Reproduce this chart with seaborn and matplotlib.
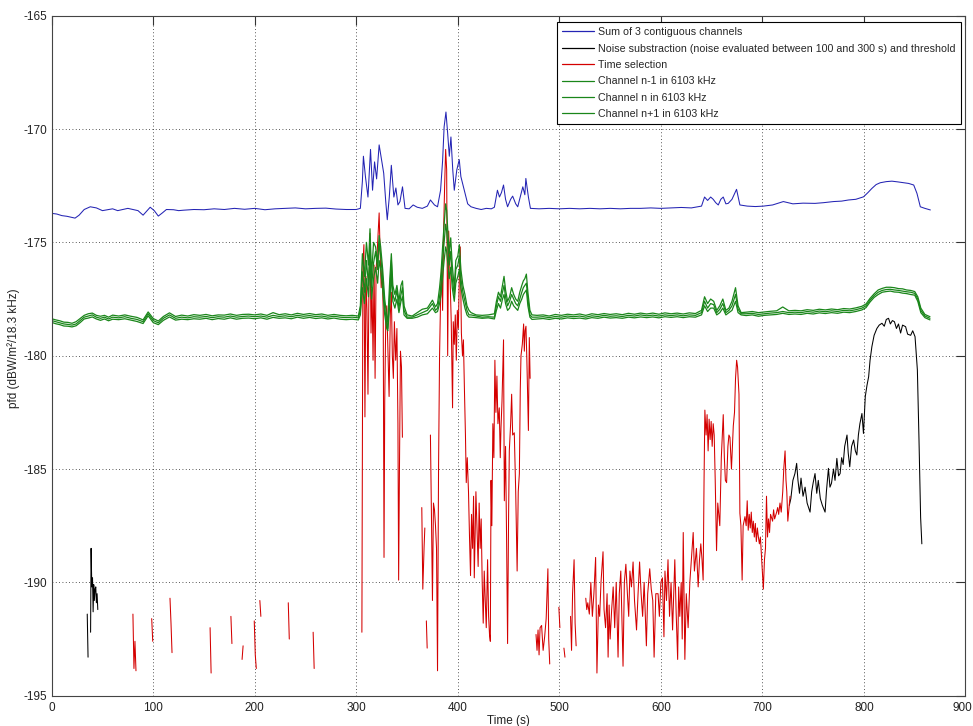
import numpy as np
import pandas as pd
import matplotlib
matplotlib.use("Agg")
import matplotlib.pyplot as plt
import seaborn as sns
from matplotlib.lines import Line2D
from matplotlib.transforms import ScaledTranslation

nan = np.nan

# ---------------- data ----------------
blue_t = [0, 5, 10, 15, 20, 23, 27, 32, 38, 44, 50, 55, 60, 65, 70, 75, 80, 85, 90, 94, 97, 101, 105, 109, 113,
          120, 125, 130, 140, 150, 160, 170, 180, 190, 200, 210, 220, 230, 240, 250, 260, 270, 280, 290, 300,
          304, 306, 307, 309, 311.5, 314, 316, 318, 320, 322.5, 325, 327, 329, 330.5, 332.5, 334.5, 337, 339,
          341, 343, 345.5, 348, 352, 356, 360, 365, 370, 373, 377, 380, 383, 385, 386.5, 388.3, 390, 391.6,
          393.2, 395, 396.5, 399, 401.4, 403, 406.4, 409.7, 413, 418, 423, 428, 433, 436, 439, 441, 443, 445,
          447, 449, 452, 454, 457, 459, 462, 464, 466, 467, 469.5, 471.5, 480, 490, 500, 510, 520, 530, 540,
          550, 560, 570, 580, 590, 600, 610, 620, 630, 640, 643, 646, 649, 651.5, 654, 656.5, 659, 661.4, 664,
          666.3, 670, 674.5, 677.8, 685, 693, 701, 710, 720.6, 730, 740, 751.8, 760, 770, 778, 784.8, 792,
          799.6, 804, 807.8, 812, 816, 822, 827.5, 833, 839, 844, 849, 852.2, 855.5, 860, 865.4]
blue_v = [-173.72, -173.75, -173.82, -173.85, -173.9, -173.93, -173.8, -173.55, -173.43, -173.48, -173.6, -173.56,
          -173.52, -173.6, -173.55, -173.5, -173.55, -173.6, -173.8, -173.6, -173.45, -173.6, -173.84, -173.7,
          -173.55, -173.56, -173.6, -173.58, -173.55, -173.56, -173.52, -173.55, -173.5, -173.54, -173.5,
          -173.56, -173.52, -173.5, -173.48, -173.52, -173.5, -173.49, -173.53, -173.55, -173.55,
          -173.5, -172.3, -171.2, -172.1, -173.0, -170.9, -172.7, -171.45, -172.2, -170.7, -171.4, -171.95,
          -173.2, -174.0, -173.0, -171.6, -173.0, -172.6, -173.35, -173.2, -172.55, -173.5, -173.52, -173.35,
          -173.45, -173.5, -173.4, -173.13, -173.35, -173.43, -172.7, -171.4, -169.9, -169.25, -170.2, -171.2,
          -170.35, -171.8, -172.7, -171.8, -171.35, -172.1, -172.7, -173.3, -173.43, -173.5, -173.55, -173.5,
          -173.52, -173.45, -172.7, -173.0, -172.8, -172.47, -173.1, -173.43, -173.1, -172.96, -173.3, -173.43,
          -172.9, -172.55, -172.9, -172.18, -173.0, -173.5, -173.52, -173.5, -173.52, -173.5, -173.52, -173.5,
          -173.52, -173.5, -173.52, -173.5, -173.5, -173.48, -173.5, -173.48, -173.46, -173.48, -173.4, -173.0,
          -173.15, -173.0, -173.1, -173.25, -173.35, -173.1, -173.0, -173.3, -173.28, -173.1, -172.66, -173.35,
          -173.4, -173.42, -173.4, -173.35, -173.2, -173.3, -173.27, -173.28, -173.25, -173.2, -173.18, -173.13,
          -173.1, -172.99, -172.8, -172.62, -172.45, -172.37, -172.32, -172.3, -172.33, -172.37, -172.4,
          -172.47, -172.84, -173.43, -173.5, -173.57]

green_t = [0, 4, 8, 12, 16, 20, 24, 28, 32, 36, 40, 44, 48, 52, 56, 60, 66, 72, 78, 84, 90, 95, 100, 105, 110,
           116, 122, 128, 134, 140, 146, 152, 158, 164, 170, 176, 182, 188, 194, 200, 206, 212, 218, 224, 230,
           236, 242, 248, 254, 260, 266, 272, 278, 284, 290, 296, 302,
           304, 306, 308, 310, 312, 313.5, 315, 317, 319, 321, 322.5, 324, 326, 328, 330, 331, 333, 334.5, 336,
           338, 340, 342, 344, 345.5, 347, 350,
           355, 360, 365, 370, 375, 378, 380, 382,
           383.5, 385, 386.5, 388, 389, 390, 391.5, 393, 394.5, 396.5, 398, 400, 401.5, 403, 405, 407, 409, 411, 413,
           418, 424, 430, 436,
           438, 440, 442, 444, 445.5, 447, 449, 451, 453, 455, 457, 459, 461, 463, 464.5, 466, 467.5, 469, 471, 473,
           478, 484, 490, 496, 502, 508, 514, 520, 526, 532, 538, 544, 550, 556, 562, 568, 574, 580, 586, 592,
           598, 604, 610, 616, 622, 628, 634, 640,
           643, 646, 649, 652, 655, 658, 661, 664, 667, 670, 673.5, 676, 679,
           684, 690, 696, 702, 708, 714, 720, 726, 732, 738, 744, 750, 756, 762, 768, 774, 780, 786, 792, 798,
           802, 806, 810, 814, 818, 822, 826, 830, 834, 838, 842, 846, 850, 853, 856, 860, 865]

green_nm1 = [-178.37, -178.42, -178.46, -178.52, -178.53, -178.57, -178.5, -178.36, -178.22, -178.15, -178.12,
             -178.22, -178.26, -178.22, -178.3, -178.21, -178.25, -178.2, -178.26, -178.31, -178.42, -178.07,
             -178.36, -178.47, -178.27, -178.11, -178.27, -178.21, -178.25, -178.19, -178.22, -178.18, -178.24,
             -178.2, -178.21, -178.16, -178.22, -178.18, -178.17, -178.2, -178.16, -178.22, -178.1, -178.19,
             -178.15, -178.2, -178.13, -178.18, -178.14, -178.19, -178.16, -178.22, -178.18, -178.22, -178.24,
             -178.22, -178.25,
             -177.8, -175.5, -176.5, -175.0, -176.0, -174.4, -176.5, -175.0, -175.2, -175.9, -174.7, -175.2,
             -176.2, -177.5, -178.3, -178.5, -176.6, -175.5, -176.9, -177.3, -176.9, -177.6, -176.9, -176.7,
             -177.8, -178.2,
             -178.25, -178.1, -177.95, -177.9, -177.55, -177.85, -177.7, -177.0,
             -176.3, -175.2, -174.2, -173.3, -173.6, -174.4, -175.5, -174.8, -176.0, -177.0, -175.8, -175.6,
             -175.1, -176.2, -176.9, -177.3, -177.8, -178.0, -178.1,
             -178.2, -178.22, -178.2, -178.15,
             -177.6, -177.2, -177.4, -176.9, -176.5, -177.1, -177.6, -177.4, -177.0, -177.3, -177.5, -177.6,
             -177.2, -176.9, -176.7, -176.6, -176.4, -177.2, -178.0, -178.2,
             -178.22, -178.2, -178.25, -178.18, -178.22, -178.17, -178.2, -178.16, -178.22, -178.15, -178.19,
             -178.14, -178.18, -178.15, -178.19, -178.13, -178.17, -178.12, -178.16, -178.12, -178.17, -178.11,
             -178.15, -178.12, -178.16, -178.11, -178.14, -178.0,
             -177.4, -177.7, -177.5, -177.6, -178.0, -177.8, -177.5, -178.0, -177.9, -177.6, -177.0, -177.8, -178.1,
             -178.08, -178.05, -178.1, -178.07, -178.04, -178.02, -177.85, -178.02, -178.0, -178.02, -177.97,
             -178.0, -177.95, -177.98, -177.94, -177.97, -177.92, -177.94, -177.89, -177.82,
             -177.72, -177.47, -177.27, -177.1, -177.03, -176.98, -176.98, -177.0, -177.04, -177.05, -177.1,
             -177.12, -177.17, -177.4, -177.9, -178.18, -178.28]

green_n = [-178.45, -178.5, -178.55, -178.6, -178.62, -178.65, -178.6, -178.45, -178.3, -178.25, -178.2, -178.3,
           -178.35, -178.3, -178.38, -178.3, -178.33, -178.28, -178.35, -178.4, -178.5, -178.15, -178.45, -178.55,
           -178.35, -178.2, -178.35, -178.3, -178.33, -178.28, -178.3, -178.27, -178.32, -178.28, -178.3, -178.25,
           -178.3, -178.27, -178.25, -178.28, -178.25, -178.3, -178.22, -178.27, -178.24, -178.28, -178.22,
           -178.26, -178.23, -178.27, -178.25, -178.3, -178.26, -178.3, -178.32, -178.3, -178.33,
           -178.0, -176.3, -177.2, -175.8, -176.9, -174.9, -177.0, -175.9, -175.4, -176.2, -175.0, -175.6,
           -176.6, -177.9, -178.6, -178.8, -177.2, -175.8, -177.3, -177.6, -177.1, -177.9, -177.3, -177.0,
           -178.0, -178.3,
           -178.3, -178.2, -178.1, -178.0, -177.7, -178.0, -177.9, -177.4,
           -176.8, -175.8, -175.0, -174.2, -174.5, -175.1, -176.0, -175.4, -176.6, -177.3, -176.2, -176.0,
           -175.6, -176.6, -177.2, -177.6, -178.0, -178.2, -178.2,
           -178.25, -178.3, -178.28, -178.3,
           -177.8, -177.4, -177.6, -177.2, -176.9, -177.4, -177.8, -177.6, -177.3, -177.5, -177.7, -177.8,
           -177.5, -177.2, -177.0, -176.9, -176.8, -177.5, -178.2, -178.3,
           -178.3, -178.28, -178.32, -178.27, -178.3, -178.25, -178.28, -178.25, -178.3, -178.24, -178.27,
           -178.22, -178.26, -178.24, -178.27, -178.22, -178.25, -178.2, -178.24, -178.21, -178.25, -178.2,
           -178.23, -178.2, -178.24, -178.2, -178.22, -178.1,
           -177.6, -177.9, -177.7, -177.75, -178.1, -177.95, -177.7, -178.1, -178.0, -177.8, -177.3, -177.95,
           -178.15,
           -178.15, -178.13, -178.18, -178.15, -178.12, -178.1, -178.05, -178.1, -178.08, -178.1, -178.05,
           -178.08, -178.03, -178.06, -178.02, -178.05, -178.0, -178.02, -177.97, -177.9,
           -177.8, -177.55, -177.35, -177.2, -177.12, -177.08, -177.07, -177.1, -177.12, -177.15, -177.18,
           -177.2, -177.25, -177.5, -178.0, -178.25, -178.35]

green_np1 = [-178.53, -178.59, -178.63, -178.69, -178.7, -178.73, -178.68, -178.54, -178.38, -178.34, -178.29,
             -178.38, -178.44, -178.38, -178.46, -178.39, -178.41, -178.37, -178.43, -178.49, -178.58, -178.24,
             -178.54, -178.63, -178.44, -178.29, -178.43, -178.39, -178.41, -178.37, -178.39, -178.35, -178.41,
             -178.36, -178.39, -178.33, -178.39, -178.35, -178.34, -178.37, -178.33, -178.39, -178.31, -178.35,
             -178.33, -178.37, -178.3, -178.35, -178.31, -178.36, -178.33, -178.38, -178.34, -178.39, -178.41,
             -178.39, -178.42,
             -178.2, -177.0, -177.7, -176.6, -177.4, -175.6, -177.5, -176.6, -176.1, -176.8, -175.8, -176.2,
             -177.1, -178.2, -178.8, -178.9, -177.7, -176.4, -177.6, -177.9, -177.5, -178.1, -177.6, -177.4,
             -178.2, -178.35,
             -178.35, -178.3, -178.2, -178.15, -177.9, -178.1, -178.05, -177.7,
             -177.3, -176.5, -175.8, -175.2, -175.4, -175.9, -176.6, -176.1, -177.0, -177.6, -176.8, -176.5,
             -176.2, -177.0, -177.5, -177.9, -178.2, -178.3, -178.3,
             -178.32, -178.35, -178.33, -178.38,
             -178.0, -177.7, -177.9, -177.5, -177.3, -177.7, -178.0, -177.9, -177.6, -177.8, -177.9, -178.0,
             -177.7, -177.5, -177.3, -177.2, -177.1, -177.8, -178.3, -178.4,
             -178.38, -178.36, -178.4, -178.35, -178.38, -178.33, -178.36, -178.34, -178.38, -178.32, -178.35,
             -178.3, -178.34, -178.32, -178.35, -178.3, -178.33, -178.29, -178.32, -178.29, -178.33, -178.28,
             -178.31, -178.28, -178.32, -178.28, -178.3, -178.2,
             -177.8, -178.05, -177.9, -177.9, -178.2, -178.1, -177.9, -178.2, -178.1, -178.0, -177.6, -178.1,
             -178.2,
             -178.23, -178.2, -178.26, -178.22, -178.2, -178.18, -178.13, -178.18, -178.16, -178.18, -178.13,
             -178.16, -178.11, -178.14, -178.1, -178.13, -178.08, -178.1, -178.05, -177.98,
             -177.88, -177.63, -177.43, -177.3, -177.2, -177.17, -177.15, -177.19, -177.2, -177.24, -177.26,
             -177.3, -177.33, -177.6, -178.1, -178.32, -178.42]

red_t = [80, 81, 82, 83, nan, 98.5, 99.5, nan, 116.5, 117.5, 118.5, nan, 156, 157, nan, 176.5, 177.5, nan,
         187.5, 188.5, nan, 199.5, 200.5, 201.5, nan, 205, 206, nan, 233, 234, nan, 257.5, 258.5, nan,
         305.5, 306.5, 307.5, 308.5, 309.5, 310.5, 311.5, 312.5, 313.5, 314.5, 315.5, 316.5, 317.5, 318.5,
         319.5, 320.5, 321.5, 322.5, 323.5, 324.5, 325.5, 326.5, 327.3, 328, 329, 330, 331, 332.3, 333.5,
         334.5, 335.5, 336.5, 337.5, 338.8, 340, 341, 341.7, 342.5, 343.5, 344.5, 345.4, nan,
         364.5, 365.5, 366.8, 367.5, nan, 369, 369.8, nan,
         373, 374, 375, 376, 377, 378, 379, 380, 381, 382, 383, 384, 385, 386, 387, 388, 389, 390, 391, 392,
         393.5, 394.8, 395.5, 396.5, 397.5, 398.5, 399.5, 400.5, 401.5, 402.4, 403.5, 404.6, 405.5, 406.5,
         407.5, 408.3, 409.3, 410.5, 411.5, 412.5, 413.5, 414.5, 415.5, 416.2, 417, 417.8, 418.8, 420, 421,
         422, 423, 424, 425, 426, 427, 428, 429.3, 430.3, 431.2, 432, 432.7, 433.5, 434.5, 435.5, 436.5,
         437.5, 438.5, 439.5, 440.8, 441.8, 442.5, 443.5, 445, 445.8, 447, 448, 449, 450, 450.7, 452, 453,
         454, 455.6, 457, 458.4, 459.5, 460.6, 461.5, 462.2, 463.5, 464.8, 465.5, 466.2, 467.1, 468, 469.5,
         470.4, 471.2, nan,
         477, 478, 479, 480, 481, 482.5, 484, 485.5, 487, 488.7, 489.5, 490.5, nan,
         499.5, 500.5, nan, 504.5, 505.5, nan, 511, 512, 513, 514.5, 515.5, 516.5, nan,
         526, 527, 528, 529.5, 531, 532.5, 534, 535.7, 537, 538.5, 539.7, 541, 543, 544, 545.5, 547, 548,
         549, 550, 551.5, 553, 554.5, 556, 557.8, 559, 560.5, 561.5, 562.7, 564, 565.5, 567, 568.3, 569.5,
         571, 572.6, 574, 576, 577.5, 579, 580.5, 582, 583.5, 585.7, 587, 589, 590.5, 592, 593.3, 595, 597.2,
         598.5, 600, 601.5, 603, 604, 605.5, 607, 608.5, 610, 611.5, 613.7, 615, 616.5, 617.5, 618.6, 620,
         621, 622, 623.6, 625, 626.8, 628.5, 630, 631.8, 633, 635, 636.7, 638, 639.3, 640.5, 641.6, 642.5,
         643.3, 644.5, 645.5, 646.5, 647.5, 648.5, 649.5, 650.5, 651.5, 652.5, 653.5, 654.8, 656, 658,
         659.5, 661.4, 662.5, 663.5, 664.7, 666, 667, 668, 669.5, 671.3, 672.5, 673.5, 674.6, 675.5, 676.9,
         677.8, 678.8, 680, 681, 682.8, 684, 685, 686, 687, 688, 689, 690, 691, 692, 693, 694, 695, 696, 697,
         698, 699, 700.9, 702, 703, 704, 705, 706, 707, 708, 710, 711, 712, 714, 715, 716, 717.3, 718.5, 720,
         721, 722.3, 723.2, 724, 725, 726, 727.2]
red_v = [-191.4, -193.8, -192.6, -193.9, nan, -191.6, -192.6, nan, -190.7, -191.8, -193.1, nan, -192.0, -194.0,
         nan, -191.5, -192.7, nan, -193.4, -192.8, nan, -191.7, -193.2, -193.8, nan, -190.8, -191.5, nan,
         -190.9, -192.5, nan, -192.2, -193.8, nan,
         -192.2, -176.0, -175.1, -182.7, -176.5, -178.0, -181.7, -176.8, -174.6, -179.0, -177.0, -180.2,
         -176.0, -181.0, -176.2, -175.5, -174.6, -173.7, -175.5, -177.0, -176.2, -178.0, -188.9, -182.0,
         -178.5, -177.8, -179.5, -181.8, -178.2, -177.2, -180.0, -181.0, -178.5, -180.2, -178.8, -183.0,
         -189.9, -185.0, -179.8, -180.5, -183.6, nan,
         -186.7, -190.3, -188.4, -187.6, nan, -191.7, -192.9, nan,
         -183.5, -187.0, -190.8, -186.5, -186.8, -187.5, -188.5, -193.9, -185.0, -180.0, -177.5, -176.0,
         -178.0, -174.5, -172.5, -170.9, -171.8, -180.0, -174.5, -176.0,
         -178.5, -182.3, -178.5, -179.5, -178.2, -180.2, -178.0, -178.8, -176.5, -175.2, -179.0, -180.0,
         -179.3, -181.5, -183.5, -185.6, -184.5, -186.0, -188.0, -189.7, -187.0, -188.5, -186.2, -189.8,
         -188.0, -186.0, -187.5, -189.3, -186.5, -188.5, -187.2, -190.0, -191.8, -189.5, -190.8, -192.0,
         -189.0, -191.5, -192.3, -192.6, -185.5, -187.5, -183.0, -184.5, -180.2, -182.5, -180.9, -183.0,
         -182.3, -184.5, -183.2, -182.0, -179.3, -186.4, -184.0, -188.0, -192.7, -187.0, -184.2, -183.0,
         -181.7, -183.5, -183.4, -186.0, -189.5, -186.0, -185.2, -181.5, -180.0, -179.5, -178.6, -179.8,
         -178.9, -178.7, -180.2, -183.3, -179.2, -181.0, nan,
         -192.3, -193.0, -192.1, -193.2, -192.0, -191.9, -193.0, -192.4, -191.6, -189.4, -192.5, -193.6, nan,
         -191.1, -192.0, nan, -192.9, -193.3, nan, -191.5, -193.0, -190.5, -189.0, -191.8, -192.8, nan,
         -190.7, -191.2, -190.9, -191.4, -190.0, -191.5, -190.5, -188.9, -194.0, -191.0, -191.5, -190.0,
         -188.65, -191.2, -192.0, -190.5, -193.3, -191.0, -192.5, -191.2, -190.2, -192.0, -190.0, -193.3,
         -190.5, -189.5, -191.5, -193.7, -190.0, -189.2, -190.5, -191.5, -189.5, -190.2, -189.1, -190.8,
         -192.1, -190.5, -189.1, -190.5, -191.5, -190.0, -192.8, -190.5, -189.4, -190.3, -190.8, -193.3,
         -190.5, -190.5, -191.5, -190.0, -189.8, -192.4, -189.5, -190.8, -189.0, -191.5, -190.0, -192.1,
         -189.0, -191.3, -193.4, -190.2, -191.5, -190.0, -192.5, -187.8, -193.4, -190.5, -192.0, -190.0,
         -189.0, -187.8, -189.5, -188.5, -190.2, -189.0, -188.3, -189.0, -189.9, -185.5, -182.4, -183.5,
         -182.6, -184.2, -182.8, -183.7, -182.9, -184.0, -183.0, -183.5, -185.5, -188.6, -186.5, -187.5,
         -184.5, -182.6, -184.5, -185.5, -185.6, -184.0, -183.5, -183.6, -185.0, -183.1, -182.5, -181.0,
         -180.2, -180.5, -181.7, -186.95, -187.5, -189.9, -187.5, -187.1, -187.5, -186.4, -187.7, -187.0,
         -187.6, -186.9, -187.8, -187.3, -188.0, -187.4, -188.2, -187.6, -188.0, -188.3, -188.0, -188.8,
         -190.3, -189.0, -188.5, -186.2, -188.0, -187.2, -187.8, -187.0, -187.3, -186.8, -187.2, -186.9,
         -186.7, -187.0, -186.5, -186.9, -186.0, -185.0, -184.2, -185.5, -186.0, -187.3, -186.8, -186.2]

black_t = [35, 35.8, nan, 38.3, 38.8, 39.5, 40.2, 40.8, 41.4, 42, 42.7, 43.4, 44, 44.7, 45.4, nan,
           726.5, 728, 730, 732, 733.7, 735, 736.5, 738, 740, 742, 744, 746.9, 748.5, 750, 751.8, 753.5, 755,
           757, 759, 761.7, 763, 765, 766.5, 768, 770, 771.5, 773.3, 775, 776.5, 778, 779.5, 781, 783.3,
           784.5, 786, 787.8, 789.8, 791.5, 793, 794.5, 796, 798, 799.5, 801.3, 803, 804.6, 806, 807.8, 810,
           812.7, 815, 817.7, 820, 822, 824.2, 826, 828, 830, 832, 834, 836.1, 838, 841, 843, 846, 848, 850.3,
           852.6, 854.2, 855.8, 857]
black_v = [-191.4, -193.3, nan, -192.2, -188.5, -190.2, -189.8, -191.3, -190.1, -190.8, -190.3, -190.2, -190.9,
           -190.5, -191.2, nan,
           -186.6, -186.3, -185.5, -185.2, -184.75, -185.5, -186.07, -185.4, -186.2, -185.8, -186.5, -186.9,
           -186.0, -185.6, -185.2, -186.07, -185.5, -186.3, -186.6, -186.9, -186.0, -184.97, -185.8, -185.63,
           -185.0, -185.5, -184.53, -185.3, -185.2, -184.5, -184.8, -184.0, -183.5, -184.3, -184.9, -184.0,
           -183.72, -184.2, -184.38, -183.5, -183.0, -182.55, -183.43, -181.8, -181.3, -180.93, -180.2, -179.6,
           -179.1, -178.8, -178.65, -178.57, -178.7, -178.4, -178.35, -178.6, -178.45, -178.5, -178.8, -178.6,
           -179.0, -178.65, -178.72, -179.05, -179.1, -178.9, -179.16, -180.63, -183.72, -187.14, -188.3]

series_labels = ["Sum of 3 contiguous channels",
                 "Noise substraction (noise evaluated between 100 and 300 s) and threshold",
                 "Time selection",
                 "Channel n-1 in 6103 kHz",
                 "Channel n in 6103 kHz",
                 "Channel n+1 in 6103 kHz"]
x_ticks = [0, 100, 200, 300, 400, 500, 600, 700, 800, 900]
y_ticks = [-195, -190, -185, -180, -175, -170, -165]

# ---------------- style ----------------
sns.set_theme(style="white")
plt.rcParams["font.family"] = ["Liberation Sans", "DejaVu Sans"]
plt.rcParams["axes.unicode_minus"] = False

col_blue = "#2424b4"
col_black = "#000000"
col_red = "#d40000"
col_green = "#1a861a"
lw = 0.75


def frame(t, v):
    df = pd.DataFrame({"t": np.asarray(t, float), "v": np.asarray(v, float)})
    df["seg"] = df["v"].isna().cumsum()
    return df.dropna().reset_index(drop=True)


fig = plt.figure(figsize=(9.73, 7.26), dpi=100)
ax = fig.add_axes([51.7 / 973, 1 - 695.7 / 726, (965.5 - 51.7) / 973, (695.7 - 15.7) / 726])

sns.lineplot(data=frame(blue_t, blue_v), x="t", y="v", color=col_blue, lw=lw, ax=ax,
             units="seg", estimator=None, sort=False)
sns.lineplot(data=frame(black_t, black_v), x="t", y="v", color=col_black, lw=lw, ax=ax,
             units="seg", estimator=None, sort=False)
sns.lineplot(data=frame(red_t, red_v), x="t", y="v", color=col_red, lw=lw, ax=ax,
             units="seg", estimator=None, sort=False)
for gv in (green_nm1, green_n, green_np1):
    sns.lineplot(data=frame(green_t, gv), x="t", y="v", color=col_green, lw=0.9, ax=ax,
                 units="seg", estimator=None, sort=False)

ax.set_xlim(0, 900)
ax.set_ylim(-195, -165)
ax.set_xticks(x_ticks)
ax.set_yticks(y_ticks)
ax.set_xticklabels([str(x) for x in x_ticks])
ax.set_yticklabels([str(y) for y in y_ticks])
ax.grid(True, linestyle=(0, (1, 3)), color="#222222", linewidth=0.6)
ax.tick_params(direction="in", length=6.5, width=0.8, colors="#333333", labelcolor="#222222",
               labelsize=8.5, top=True, right=True)
ax.tick_params(axis="x", pad=4.5)
ax.tick_params(axis="y", pad=3)
for s in ax.spines.values():
    s.set_color("#444444")
    s.set_linewidth(0.8)
    s.set_visible(True)

# keep the last x tick label inside the canvas
last = ax.get_xticklabels()[-1]
last.set_transform(last.get_transform() + ScaledTranslation(-3 / 100, 0, fig.dpi_scale_trans))

ax.set_xlabel("Time (s)", fontsize=8.5, color="#222222", labelpad=0.5)
ax.set_ylabel("pfd (dBW/m²/18.3 kHz)", fontsize=8.5, color="#222222")
ax.yaxis.set_label_coords(-0.035, 0.511)

handles = [Line2D([], [], color=c, lw=0.9) for c in
           (col_blue, col_black, col_red, col_green, col_green, col_green)]
leg = ax.legend(handles, series_labels, loc="upper right",
                bbox_to_anchor=(1 - 4.8 / 913.8, 1 - 6.6 / 680), borderaxespad=0,
                fontsize=7.7, handlelength=3.0, handletextpad=0.4, labelspacing=0.6,
                borderpad=0.45, fancybox=False, framealpha=1, edgecolor="black")
leg.get_frame().set_linewidth(0.8)

fig.savefig("out.png", dpi=100, facecolor="white")
